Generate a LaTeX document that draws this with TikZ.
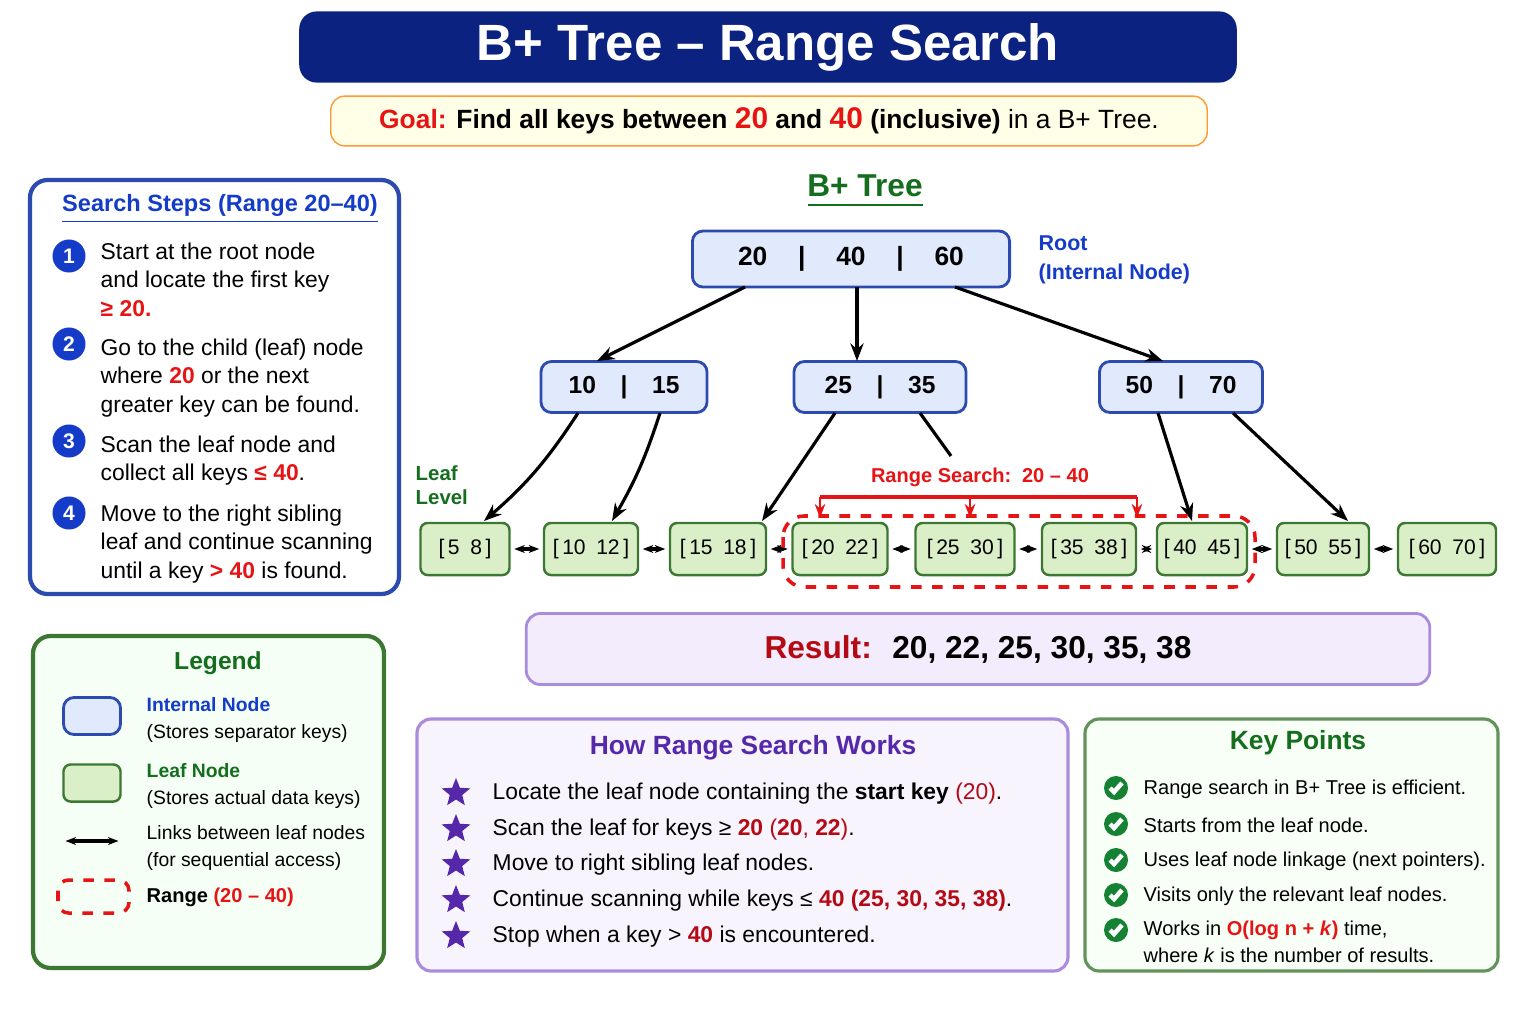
\documentclass[tikz,border=0pt]{standalone}
\usepackage{fontspec}
\setmainfont{Liberation Sans}
\usetikzlibrary{shapes.geometric,arrows.meta}
\definecolor{navy}{RGB}{12,34,128}
\definecolor{iblue}{RGB}{225,234,252}
\definecolor{bdblue}{RGB}{45,75,175}
\definecolor{tblue}{RGB}{20,60,200}
\definecolor{lgreen}{RGB}{218,238,200}
\definecolor{dgreen}{RGB}{60,120,50}
\definecolor{tgreen}{RGB}{20,110,30}
\definecolor{rred}{RGB}{230,20,20}
\definecolor{dred}{RGB}{180,10,20}
\definecolor{purp}{RGB}{85,40,170}
\definecolor{lpurp}{RGB}{243,236,252}
\definecolor{ppl}{RGB}{170,140,220}
\definecolor{chk}{RGB}{20,130,50}
\newcommand{\fs}[1]{\fontsize{#1}{#1}\selectfont}
\begin{document}
\begin{tikzpicture}[x=0.01cm,y=-0.01cm,
  inode/.style={draw=bdblue,fill=iblue,rounded corners=3pt,line width=0.8pt},
  leaf/.style={draw=dgreen,fill=lgreen,rounded corners=2pt,line width=0.7pt},
  arr/.style={-{Stealth[length=5pt]},line width=0.9pt},
  link/.style={{Stealth[length=3pt]}-{Stealth[length=3pt]},line width=0.9pt,shorten <=1pt,shorten >=1pt},
  num/.style={circle,fill=tblue,text=white,inner sep=0pt,minimum size=0.33cm,font=\bfseries\fs{6}},
  stp/.style={anchor=north west,align=left,font=\fontsize{6.5}{8.1}\selectfont,inner sep=0pt},
  pstar/.style={star,star points=5,star point ratio=2.3,fill=purp,inner sep=0pt,minimum size=0.3cm},
  hw/.style={anchor=west,font=\fs{6.5},inner sep=0pt},
  kp/.style={anchor=west,font=\fs{5.7},inner sep=0pt}]
\useasboundingbox (0,0) rectangle (1536,1024);
\fill[white] (0,0) rectangle (1536,1024);
% title
\node[fill=navy,rounded corners=5pt,minimum width=9.37cm,minimum height=0.7cm,text=white,font=\bfseries\fs{14.5}] (title) at (768,47) {B+ Tree -- Range Search};
\node[fill=yellow!10,draw=orange!80,rounded corners=4pt,minimum width=8.76cm,minimum height=0.49cm,font=\fs{7.5}] (goal) at (769,121)
 {\textcolor{rred}{\bfseries Goal:} \textbf{Find all keys between \textcolor{rred}{\fs{8.5}20} and \textcolor{rred}{\fs{8.5}40}} \textbf{(inclusive)} in a B+ Tree.};
% search steps
\draw[bdblue,line width=1.2pt,rounded corners=5pt,fill=white] (30,180) rectangle (399,594);
\node[font=\bfseries\fs{6.7},text=tblue] (sst) at (220,209) {\underline{Search Steps (Range 20–40)}};
\node[num] (n1) at (69,256) {1};
\node[stp] at (100,242) {Start at the root node\\and locate the first key\\\textcolor{rred}{\bfseries ≥ 20.}};
\node[num] (n2) at (69,344) {2};
\node[stp] at (100,338) {Go to the child (leaf) node\\where \textcolor{rred}{\bfseries 20} or the next\\greater key can be found.};
\node[num] (n3) at (69,441) {3};
\node[stp] at (100,435) {Scan the leaf node and\\collect all keys \textcolor{rred}{\bfseries ≤ 40}.};
\node[num] (n4) at (69,513) {4};
\node[stp] at (100,504) {Move to the right sibling\\leaf and continue scanning\\until a key \textcolor{rred}{\bfseries > 40} is found.};
% legend
\draw[dgreen,line width=1.2pt,rounded corners=5pt,fill=green!4] (33,636) rectangle (384,968);
\node[font=\bfseries\fs{7},text=tgreen] (lg) at (218,663) {Legend};
\node[inode,minimum width=0.57cm,minimum height=0.37cm] (li) at (92,716) {};
\node[anchor=west,align=left,font=\fs{5.5},inner sep=0pt] at (146,720) {\textcolor{tblue}{\bfseries Internal Node}\\[2pt](Stores separator keys)};
\node[leaf,minimum width=0.57cm,minimum height=0.37cm] (ll) at (92,783) {};
\node[anchor=west,align=left,font=\fs{5.5},inner sep=0pt] at (146,786) {\textcolor{tgreen}{\bfseries Leaf Node}\\[2pt](Stores actual data keys)};
\coordinate (la) at (62,841); \coordinate (lb) at (122,841);
\draw[link,line width=1.2pt] (la) -- (lb);
\node[anchor=west,align=left,font=\fs{5.5},inner sep=0pt] at (146,848) {Links between leaf nodes\\[2pt](for sequential access)};
\draw[rred,dashed,line width=1pt,rounded corners=3pt] (58,880) rectangle (129,913);
\node[anchor=west,font=\fs{5.7},inner sep=0pt] at (146,897) {\textbf{Range} \textcolor{rred}{\bfseries (20 – 40)}};
% tree
\node[font=\bfseries\fs{9},text=tgreen] (bt) at (865,186) {B+ Tree};
\draw[tgreen,line width=0.8pt] (808,205) -- (923,205);
\node[inode,minimum width=3.17cm,minimum height=0.56cm,font=\bfseries\fs{7.5}] (root) at (851,259) {20\quad\,|\quad\,40\quad\,|\quad\,60};
\node[anchor=west,align=left,font=\bfseries\fs{6.1},text=tblue,inner sep=0pt] at (1038,260) {Root\\[2pt](Internal Node)};
\node[inode,minimum width=1.66cm,minimum height=0.51cm,font=\bfseries\fs{7}] (i1) at (624,387) {10\quad|\quad15};
\node[inode,minimum width=1.72cm,minimum height=0.51cm,font=\bfseries\fs{7}] (i2) at (880,387) {25\quad|\quad35};
\node[inode,minimum width=1.63cm,minimum height=0.51cm,font=\bfseries\fs{7}] (i3) at (1181,387) {50\quad|\quad70};
\draw[arr] (745,287) -- (597,361);
\draw[arr] (857,287) -- (857,361);
\draw[arr] (955,287) -- (1163,361);
\node[anchor=west,align=left,font=\bfseries\fs{5.8},text=tgreen,inner sep=0pt] at (415,485) {Leaf\\[1pt]Level};
\foreach \n/\x/\w/\t in {l1/465/89/{[\,5\enspace 8\,]},l2/591/94/{[\,10\enspace 12\,]},l3/718/96/{[\,15\enspace 18\,]},l4/840/95/{[\,20\enspace 22\,]},l5/965/99/{[\,25\enspace 30\,]},l6/1089/94/{[\,35\enspace 38\,]},l7/1202/90/{[\,40\enspace 45\,]},l8/1323/92/{[\,50\enspace 55\,]},l9/1447/98/{[\,60\enspace 70\,]}}
  \node[leaf,minimum width=\w*0.01cm,minimum height=0.52cm,inner xsep=0pt,font=\fs{6}] (\n) at (\x,549) {\t};
\foreach \a/\b in {l1/l2,l2/l3,l3/l4,l4/l5,l5/l6,l6/l7,l7/l8,l8/l9}
  \draw[link] (\a) -- (\b);
\draw[arr] (578,413) to[bend left=8] (484,521);
\draw[arr] (660,413) to[bend left=6] (612,521);
\draw[arr] (835,413) -- (762,521);
\draw[line width=0.9pt] (920,413) -- (951,456);
\draw[arr] (1158,413) -- (1192,521);
\draw[arr] (1233,413) -- (1348,521);
\draw[rred,dashed,line width=1pt,rounded corners=6pt] (783,516) rectangle (1255,587);
\node[font=\bfseries\fs{5.7},text=rred] at (980,477) {Range Search:\, 20 – 40};
\draw[rred,line width=0.9pt] (820,497) -- (1137,497);
\foreach \x in {820,970,1137} \draw[rred,-{Stealth[length=4pt]},line width=0.8pt] (\x,497) -- (\x,518);
% result
\node[fill=lpurp,draw=ppl,rounded corners=4pt,line width=0.8pt,minimum width=9.03cm,minimum height=0.71cm,font=\bfseries\fs{9}] (res) at (978,649) {\textcolor{dred}{Result:}\; 20, 22, 25, 30, 35, 38};
% how
\draw[ppl,line width=0.9pt,rounded corners=4pt,fill=lpurp!60] (417,719) rectangle (1068,971);
\node[font=\bfseries\fs{7.5},text=purp] at (753,748) {How Range Search Works};
\foreach \y in {793,829,864,900,936} \node[pstar] at (456,\y) {};
\node[hw] at (492,794) {Locate the leaf node containing the \textbf{start key} \textcolor{dred}{(20)}.};
\node[hw] at (492,830) {Scan the leaf for keys ≥ \textcolor{dred}{\bfseries 20} \textcolor{dred}{(\textbf{20}, \textbf{22})}.};
\node[hw] at (492,865) {Move to right sibling leaf nodes.};
\node[hw] at (492,901) {Continue scanning while keys ≤ \textcolor{dred}{\bfseries 40 (25, 30, 35, 38)}.};
\node[hw] at (492,937) {Stop when a key > \textcolor{dred}{\bfseries 40} is encountered.};
% key points
\draw[dgreen!80,line width=0.9pt,rounded corners=4pt,fill=green!3] (1085,719) rectangle (1498,971);
\node[font=\bfseries\fs{7.5},text=tgreen] at (1298,743) {Key Points};
\foreach \y in {788,824,860,895,930} {
  \fill[chk] (1116,\y) circle (12);
  \draw[white,line width=1.3pt] (1110,\y) -- (1114,\y+4) -- (1122,\y-5);}
\node[kp] at (1143,789) {Range search in B+ Tree is efficient.};
\node[kp] at (1143,825) {Starts from the leaf node.};
\node[kp] at (1143,861) {Uses leaf node linkage (next pointers).};
\node[kp] at (1143,896) {Visits only the relevant leaf nodes.};
\node[kp] at (1143,930) {Works in \textcolor{rred}{\bfseries O(log n + \textit{k})} time,};
\node[kp] at (1143,955) {where \textit{k} is the number of results.};
\end{tikzpicture}
\end{document}
